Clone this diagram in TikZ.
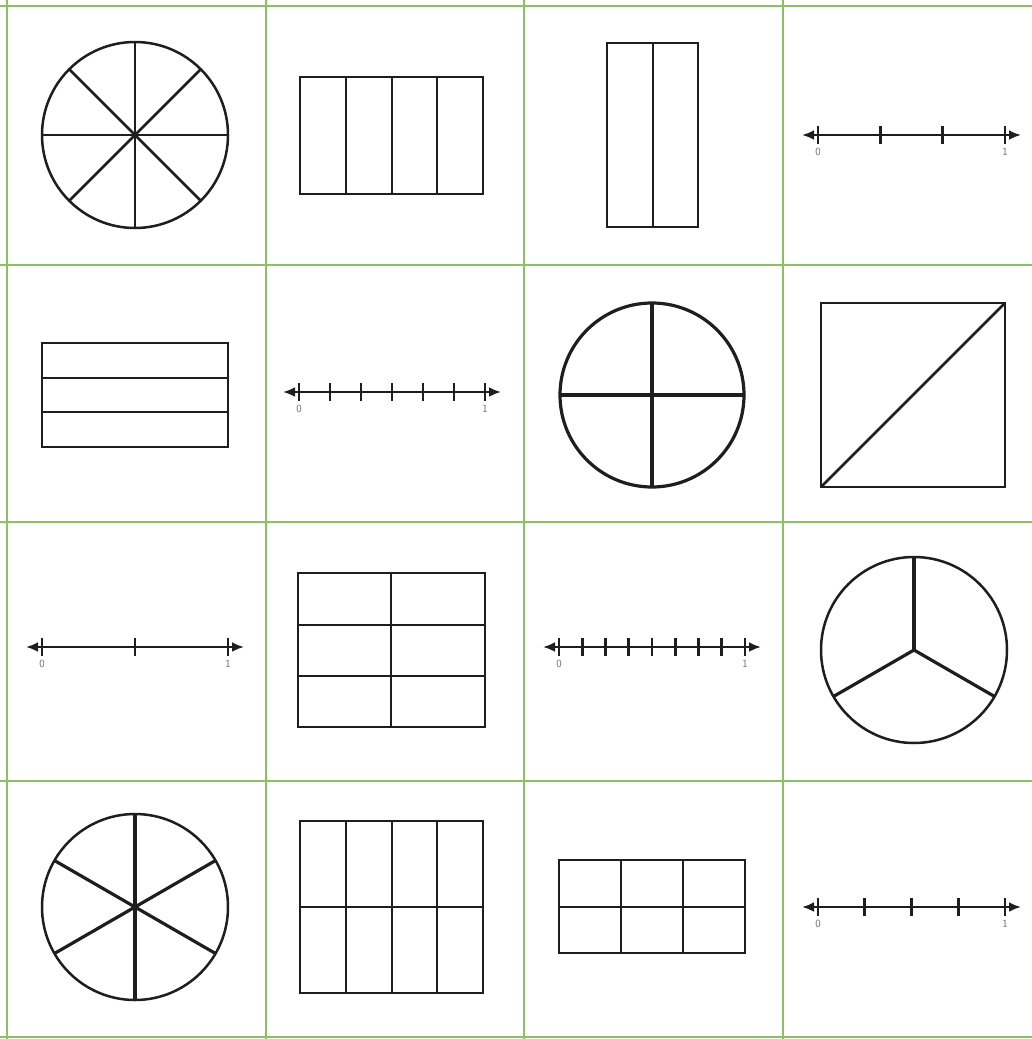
\documentclass[tikz,border=0pt]{standalone}
\usetikzlibrary{arrows.meta}
\definecolor{gridgreen}{RGB}{140,192,100}
\definecolor{ink}{RGB}{30,30,30}
\definecolor{lblgray}{RGB}{110,110,110}
\tikzset{
  gridline/.style={draw=gridgreen,line width=2.6pt},
  shp/.style={draw=ink,line width=2.5pt},
  thickshp/.style={draw=ink,line width=3.2pt},
  nl/.style={draw=ink,line width=2.8pt,{Latex[length=12pt,width=10pt]}-{Latex[length=12pt,width=10pt]}},
  tickmark/.style={draw=ink,line width=2.8pt},
  lbl/.style={text=lblgray,font=\sffamily\fontsize{11}{11}\selectfont,inner sep=0pt}
}
\newcommand\numln[5]{%
  \draw[nl] ({#1-16},#3) -- ({#2+16},#3);
  \foreach \i in {0,...,#4} \draw[tickmark] ({#1+(#2-#1)*\i/#4},{#3-9}) -- ++(0,18);
  \node[lbl] (#5zero) at (#1,{#3+17}) {0};
  \node[lbl] (#5one) at (#2,{#3+17}) {1};
}
\begin{document}
\begin{tikzpicture}[x=1pt,y=-1pt]
\useasboundingbox (0,0) rectangle (1032,1039);
\clip (0,0) rectangle (1032,1039);
\fill[white] (0,0) rectangle (1032,1039);
% grid
\foreach \x in {7,266,524,783,1034} \draw[gridline] (\x,0) -- (\x,1039);
\foreach \y in {6,265,522,781,1037} \draw[gridline] (0,\y) -- (1032,\y);

% Row 1
\draw[shp] (135,135) circle (93);
\foreach \a in {0,45,...,315} \draw[shp] (135,135) -- ++(\a:93);
\fill[ink] (135,135) circle (3.5);
\draw[shp] (300,77) rectangle (483,194);
\foreach \x in {346,392,437} \draw[shp] (\x,77) -- (\x,194);
\draw[shp] (607,43) rectangle (698,227);
\draw[shp] (653,43) -- (653,227);
\numln{818}{1005}{135}{3}{a}

% Row 2
\draw[shp] (42,343) rectangle (228,447);
\foreach \y in {378,412} \draw[shp] (42,\y) -- (228,\y);
\numln{299}{485}{392}{6}{b}
\draw[thickshp] (652,395) circle (92);
\draw[thickshp] (560,395) -- (744,395);
\draw[thickshp] (652,303) -- (652,487);
\draw[shp] (821,303) rectangle (1005,487);
\draw[shp] (821,487) -- (1005,303);

% Row 3
\numln{42}{228}{647}{2}{c}
\draw[shp] (298,573) rectangle (485,727);
\draw[shp] (391,573) -- (391,727);
\foreach \y in {625,676} \draw[shp] (298,\y) -- (485,\y);
\numln{559}{745}{647}{8}{d}
\draw[shp] (914,650) circle (93);
\foreach \a in {30,150,270} \draw[thickshp] (914,650) -- ++(\a:93);

% Row 4
\draw[shp] (135,907) circle (93);
\foreach \a in {30,90,...,330} \draw[thickshp] (135,907) -- ++(\a:93);
\draw[shp] (300,821) rectangle (483,993);
\foreach \x in {346,392,437} \draw[shp] (\x,821) -- (\x,993);
\draw[shp] (300,907) -- (483,907);
\draw[shp] (559,860) rectangle (745,953);
\foreach \x in {621,683} \draw[shp] (\x,860) -- (\x,953);
\draw[shp] (559,907) -- (745,907);
\numln{818}{1005}{907}{4}{e}
\end{tikzpicture}
\end{document}
